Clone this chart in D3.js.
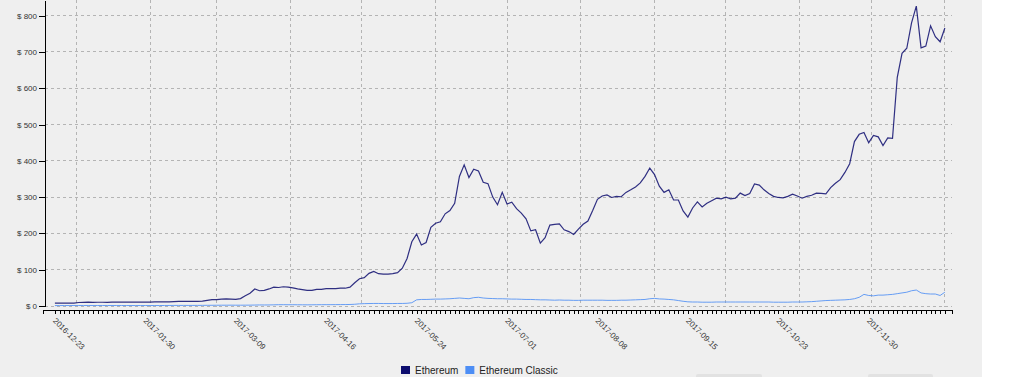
<!DOCTYPE html>
<html>
<head>
<meta charset="utf-8">
<title>Ethereum vs Ethereum Classic</title>
<style>
  body { margin: 0; background: #fff; }
  .axis text { font: 8px Arial, "Liberation Sans", sans-serif; fill: #333; }
  .axis path, .axis line { stroke: #000; shape-rendering: crispEdges; }
  .grid line { stroke: #b4b4b4; stroke-dasharray: 3,3; shape-rendering: crispEdges; }
  .legend text { font: 10px Arial, "Liberation Sans", sans-serif; fill: #222; }
</style>
</head>
<body>
<svg id="chart" width="1024" height="377"></svg>
<script src="https://cdnjs.cloudflare.com/ajax/libs/d3/7.8.5/d3.min.js"></script>
<script>
// one point every two days
var dates = [
  "2016-12-23","2016-12-25","2016-12-27","2016-12-29","2016-12-31",
  "2017-01-02","2017-01-04","2017-01-06","2017-01-08","2017-01-10","2017-01-12","2017-01-14","2017-01-16",
  "2017-01-18","2017-01-20","2017-01-22","2017-01-24","2017-01-26","2017-01-28","2017-01-30",
  "2017-02-01","2017-02-03","2017-02-05","2017-02-07","2017-02-09","2017-02-11","2017-02-13",
  "2017-02-15","2017-02-17","2017-02-19","2017-02-21","2017-02-23","2017-02-25","2017-02-27",
  "2017-03-01","2017-03-03","2017-03-05","2017-03-07","2017-03-09","2017-03-11","2017-03-13","2017-03-15",
  "2017-03-17","2017-03-19","2017-03-21","2017-03-23","2017-03-25","2017-03-27","2017-03-29","2017-03-31",
  "2017-04-02","2017-04-04","2017-04-06","2017-04-08","2017-04-10","2017-04-12","2017-04-14","2017-04-16",
  "2017-04-18","2017-04-20","2017-04-22","2017-04-24","2017-04-26","2017-04-28","2017-04-30",
  "2017-05-02","2017-05-04","2017-05-06","2017-05-08","2017-05-10","2017-05-12","2017-05-14","2017-05-16",
  "2017-05-18","2017-05-20","2017-05-22","2017-05-24","2017-05-26","2017-05-28","2017-05-30",
  "2017-06-01","2017-06-03","2017-06-05","2017-06-07","2017-06-09","2017-06-11","2017-06-13","2017-06-15",
  "2017-06-17","2017-06-19","2017-06-21","2017-06-23","2017-06-25","2017-06-27","2017-06-29",
  "2017-07-01","2017-07-03","2017-07-05","2017-07-07","2017-07-09","2017-07-11","2017-07-13","2017-07-15",
  "2017-07-17","2017-07-19","2017-07-21","2017-07-23","2017-07-25","2017-07-27","2017-07-29","2017-07-31",
  "2017-08-02","2017-08-04","2017-08-06","2017-08-08","2017-08-10","2017-08-12","2017-08-14","2017-08-16",
  "2017-08-18","2017-08-20","2017-08-22","2017-08-24","2017-08-26","2017-08-28","2017-08-30",
  "2017-09-01","2017-09-03","2017-09-05","2017-09-07","2017-09-09","2017-09-11","2017-09-13","2017-09-15",
  "2017-09-17","2017-09-19","2017-09-21","2017-09-23","2017-09-25","2017-09-27","2017-09-29",
  "2017-10-01","2017-10-03","2017-10-05","2017-10-07","2017-10-09","2017-10-11","2017-10-13","2017-10-15",
  "2017-10-17","2017-10-19","2017-10-21","2017-10-23","2017-10-25","2017-10-27","2017-10-29","2017-10-31",
  "2017-11-02","2017-11-04","2017-11-06","2017-11-08","2017-11-10","2017-11-12","2017-11-14","2017-11-16",
  "2017-11-18","2017-11-20","2017-11-22","2017-11-24","2017-11-26","2017-11-28","2017-11-30",
  "2017-12-02","2017-12-04","2017-12-06","2017-12-08","2017-12-10","2017-12-12","2017-12-14","2017-12-16",
  "2017-12-18","2017-12-20","2017-12-22","2017-12-24","2017-12-26","2017-12-28","2017-12-30",
  "2018-01-01"
];

var ethereum = [
  8.0, 7.9, 7.9, 8.2, 8.1, 9.7, 10.2, 10.4, 10.0, 10.3,
  10.3, 9.9, 10.6, 10.6, 10.5, 10.7, 10.6, 10.6, 10.7, 10.7,
  10.8, 11.1, 11.5, 11.3, 11.4, 12.0, 12.6, 12.8, 12.9, 12.9,
  12.7, 13.2, 15.5, 17.8, 17.4, 19.0, 19.5, 19.0, 18.5, 20.5,
  28, 35, 47, 42, 43, 47, 52, 51, 53, 52,
  50, 47, 45, 43, 43, 46, 46, 48, 48, 48,
  49, 49, 52, 64, 75, 78, 90, 95, 89, 88,
  88, 89, 92, 104, 131, 177, 198, 168, 175, 217,
  228, 232, 254, 263, 283, 357, 389, 354, 377, 372,
  341, 337, 300, 279, 313, 281, 286, 268, 256, 240,
  207, 210, 173, 188, 223, 225, 226, 210, 205, 197,
  212, 225, 234, 263, 294, 303, 306, 299, 302, 301,
  313, 320, 328, 339, 357, 380, 362, 330, 313, 320,
  292, 292, 262, 245, 270, 287, 273, 283, 290, 297,
  295, 300, 295, 297, 311, 304, 310, 336, 333, 320,
  310, 302, 299, 298, 302, 308, 303, 297, 302, 305,
  311, 310, 309, 326, 338, 348, 368, 392, 453, 473,
  478, 450, 470, 466, 442, 463, 462, 630, 696, 710,
  780, 826, 711, 716, 772, 742, 728, 766
];

var ethereumClassic = [
  1.2, 1.2, 1.3, 1.3, 1.4, 1.4, 1.4, 1.4, 1.4, 1.4,
  1.4, 1.4, 1.4, 1.4, 1.4, 1.3, 1.3, 1.3, 1.3, 1.3,
  1.3, 1.3, 1.3, 1.4, 1.5, 1.6, 1.6, 1.6, 1.6, 1.6,
  1.7, 1.8, 1.9, 2.0, 2.1, 2.2, 2.2, 2.3, 2.2, 2.2,
  2.3, 2.4, 2.6, 2.9, 2.8, 2.9, 3.2, 3.6, 3.6, 3.5,
  3.5, 3.4, 3.3, 3.2, 3.3, 3.5, 3.6, 3.7, 3.7, 3.8,
  3.9, 4.0, 4.2, 4.8, 6.0, 6.5, 6.8, 7.0, 7.0, 6.8,
  6.7, 6.8, 7.0, 7.0, 7.5, 9.0, 17, 18, 18, 18.5,
  19, 19, 19.5, 20, 21, 22, 21, 20, 23, 24,
  22, 21, 20.5, 20, 20, 19.5, 19, 19, 18.5, 18,
  18, 17.5, 17, 17, 16.5, 16, 16.5, 16, 16, 15.5,
  15.5, 16, 16, 16, 16, 16, 15.5, 15.5, 15.5, 16,
  16, 16.5, 17, 17.5, 18, 20, 21, 19.5, 19, 18,
  17, 15, 13, 11.5, 11, 11, 10.5, 10.5, 10.5, 11,
  11, 11, 11, 11, 11, 11, 11, 11, 11, 11,
  11, 10.5, 10.5, 10.5, 10.5, 11, 11, 11, 11.5, 12,
  13, 14, 15, 15.5, 16, 16.5, 17, 18, 20, 24,
  32, 29, 28, 30, 30, 31, 32, 34, 36, 38,
  42, 44, 36, 34, 33, 33, 29, 38
];

var seriesNames = ["Ethereum", "Ethereum Classic"];
var seriesColors = ["#0d0d6e", "#4d8ef5"];
var yTicks = [0, 100, 200, 300, 400, 500, 600, 700, 800];
var xTickLabels = ["2016-12-23", "2017-01-30", "2017-03-09", "2017-04-16", "2017-05-24",
                   "2017-07-01", "2017-08-08", "2017-09-15", "2017-10-23", "2017-11-30"];

var parse = d3.utcParse("%Y-%m-%d");
var fmt = d3.utcFormat("%Y-%m-%d");
var parsed = dates.map(parse);
var series = [ethereum, ethereumClassic].map(function(vals, k) {
  return { name: seriesNames[k], color: seriesColors[k],
           values: vals.map(function(v, i) { return { date: parsed[i], value: v }; }) };
});

var svg = d3.select("#chart");

svg.append("rect").attr("width", 982).attr("height", 377).attr("fill", "#efefef");
// cut-off buttons at bottom edge
svg.append("rect").attr("x", 696).attr("y", 374).attr("width", 66).attr("height", 8).attr("rx", 2).attr("fill", "#e2e2e2");
svg.append("rect").attr("x", 868).attr("y", 374).attr("width", 65).attr("height", 8).attr("rx", 2).attr("fill", "#e2e2e2");

var x = d3.scaleUtc()
    .domain([d3.utcDay.offset(parsed[0], -5), d3.utcDay.offset(parsed[parsed.length - 1], 3)])
    .range([43, 952]);
var y = d3.scaleLinear().domain([0, 843]).range([306, 0]);

// grid
var grid = svg.append("g").attr("class", "grid");
grid.selectAll(".h").data(yTicks).enter().append("line")
    .attr("x1", 45).attr("x2", 952)
    .attr("y1", function(d) { return y(d); }).attr("y2", function(d) { return y(d); });
grid.selectAll(".v").data(x.ticks(d3.utcMonth.every(1))).enter().append("line")
    .attr("x1", function(d) { return x(d); }).attr("x2", function(d) { return x(d); })
    .attr("y1", 0).attr("y2", 307);

// lines
var line = d3.line()
    .x(function(d) { return x(d.date); })
    .y(function(d) { return y(d.value); });

svg.selectAll(".series").data(series.slice().reverse()).enter().append("path")
    .attr("class", "series")
    .attr("fill", "none")
    .attr("stroke", function(d) { return d.color; })
    .attr("stroke-width", function(d, i) { return i === 1 ? 1.2 : 1; })
    .attr("stroke-opacity", 0.85)
    .attr("d", function(d) { return line(d.values); });

// axes
svg.append("g").attr("class", "axis")
    .attr("transform", "translate(45,0)")
    .call(d3.axisLeft(y).tickValues(yTicks).tickSize(6).tickSizeOuter(0).tickPadding(2)
      .tickFormat(function(d) { return "$ " + d; }));

var xAxis = svg.append("g").attr("class", "axis")
    .attr("transform", "translate(0,310)")
    .call(d3.axisBottom(x).tickValues(parsed).tickSize(4).tickSizeOuter(4)
      .tickFormat(function(d) { var s = fmt(d); return xTickLabels.indexOf(s) >= 0 ? s : ""; }));
xAxis.selectAll("text")
    .attr("transform", "rotate(45)")
    .attr("x", 6).attr("y", 10).attr("dy", 0)
    .style("text-anchor", "start");

// legend
var legend = svg.append("g").attr("class", "legend");
var lx = 401;
series.forEach(function(s) {
  legend.append("rect").attr("x", lx).attr("y", 366).attr("width", 9).attr("height", 8).attr("fill", s.color);
  var t = legend.append("text").attr("x", lx + 14).attr("y", 374).text(s.name);
  lx += 14 + t.node().getComputedTextLength() + 7;
});
</script>
</body>
</html>
